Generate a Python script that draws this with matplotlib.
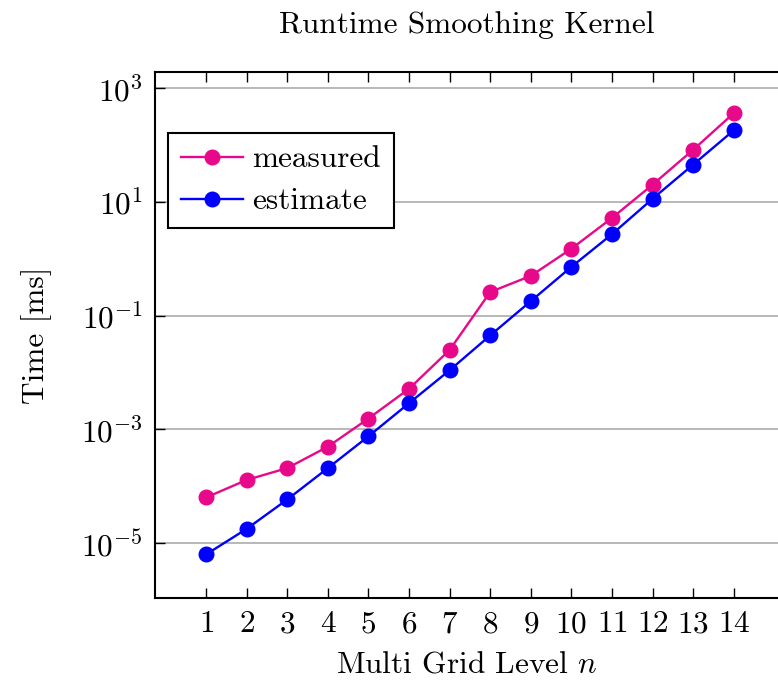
import numpy as np
import matplotlib
matplotlib.use("Agg")
import matplotlib.pyplot as plt
from matplotlib.ticker import NullLocator, LogFormatterMathtext

# =========================
# DATOS
# =========================
niveles = [1, 2, 3, 4, 5, 6, 7, 8, 9, 10, 11, 12, 13, 14]
medido = [6.4e-5, 1.3e-4, 2.1e-4, 5.0e-4, 1.56e-3, 5.2e-3, 0.025,
          0.26, 0.5, 1.5, 5.2, 20, 82, 360]
estimado = [6.4e-6, 1.8e-5, 5.9e-5, 2.1e-4, 7.6e-4, 2.9e-3, 0.011,
            0.045, 0.18, 0.72, 2.7, 11.3, 45, 180]
ticks_y = [1e-5, 1e-3, 1e-1, 1e1, 1e3]

# =========================
# ESTILO (tipo pgfplots)
# =========================
plt.rcParams["font.family"] = ["cmr10", "DejaVu Serif"]
plt.rcParams["mathtext.fontset"] = "cm"
plt.rcParams["axes.formatter.use_mathtext"] = True
tam = 22.5

fig = plt.figure(figsize=(7.78, 6.80), dpi=100)
ax = fig.add_axes([155 / 778, 1 - 598 / 680, 1 - 155 / 778, (598 - 72) / 680])

ax.plot(niveles, medido, color="#E8088A", marker="o", markersize=10.5,
        linewidth=1.7, label="measured", zorder=3)
ax.plot(niveles, estimado, color="#0000FF", marker="o", markersize=10.5,
        linewidth=1.7, label="estimate", zorder=3)

ax.set_yscale("log")
ax.set_ylim(10 ** -5.96, 10 ** 3.28)
ax.set_xlim(-0.26, 15.09)
ax.set_xticks(niveles)
ax.set_yticks(ticks_y)
ax.yaxis.set_major_formatter(LogFormatterMathtext())
ax.yaxis.set_minor_locator(NullLocator())
ax.grid(axis="y", color="#b8b8b8", linewidth=1.4)

ax.tick_params(direction="in", length=7, width=1, top=True, right=False,
               labelsize=tam, pad=9)
ax.spines["right"].set_visible(False)
for s in ["left", "top", "bottom"]:
    ax.spines[s].set_linewidth(1.5)

ax.set_title("Runtime Smoothing Kernel", fontsize=tam, pad=28)
ax.set_xlabel("Multi Grid Level $n$", fontsize=tam, labelpad=9)
ax.set_ylabel("Time [ms]", fontsize=tam, labelpad=21)

leg = ax.legend(loc="upper left", bbox_to_anchor=(0.021, 0.884), borderaxespad=0,
                fancybox=False, edgecolor="black", framealpha=1, fontsize=tam,
                handlelength=2.0, borderpad=0.4, labelspacing=0.45,
                handletextpad=0.3)
leg.get_frame().set_linewidth(1.5)

fig.savefig("out.png", dpi=100)
